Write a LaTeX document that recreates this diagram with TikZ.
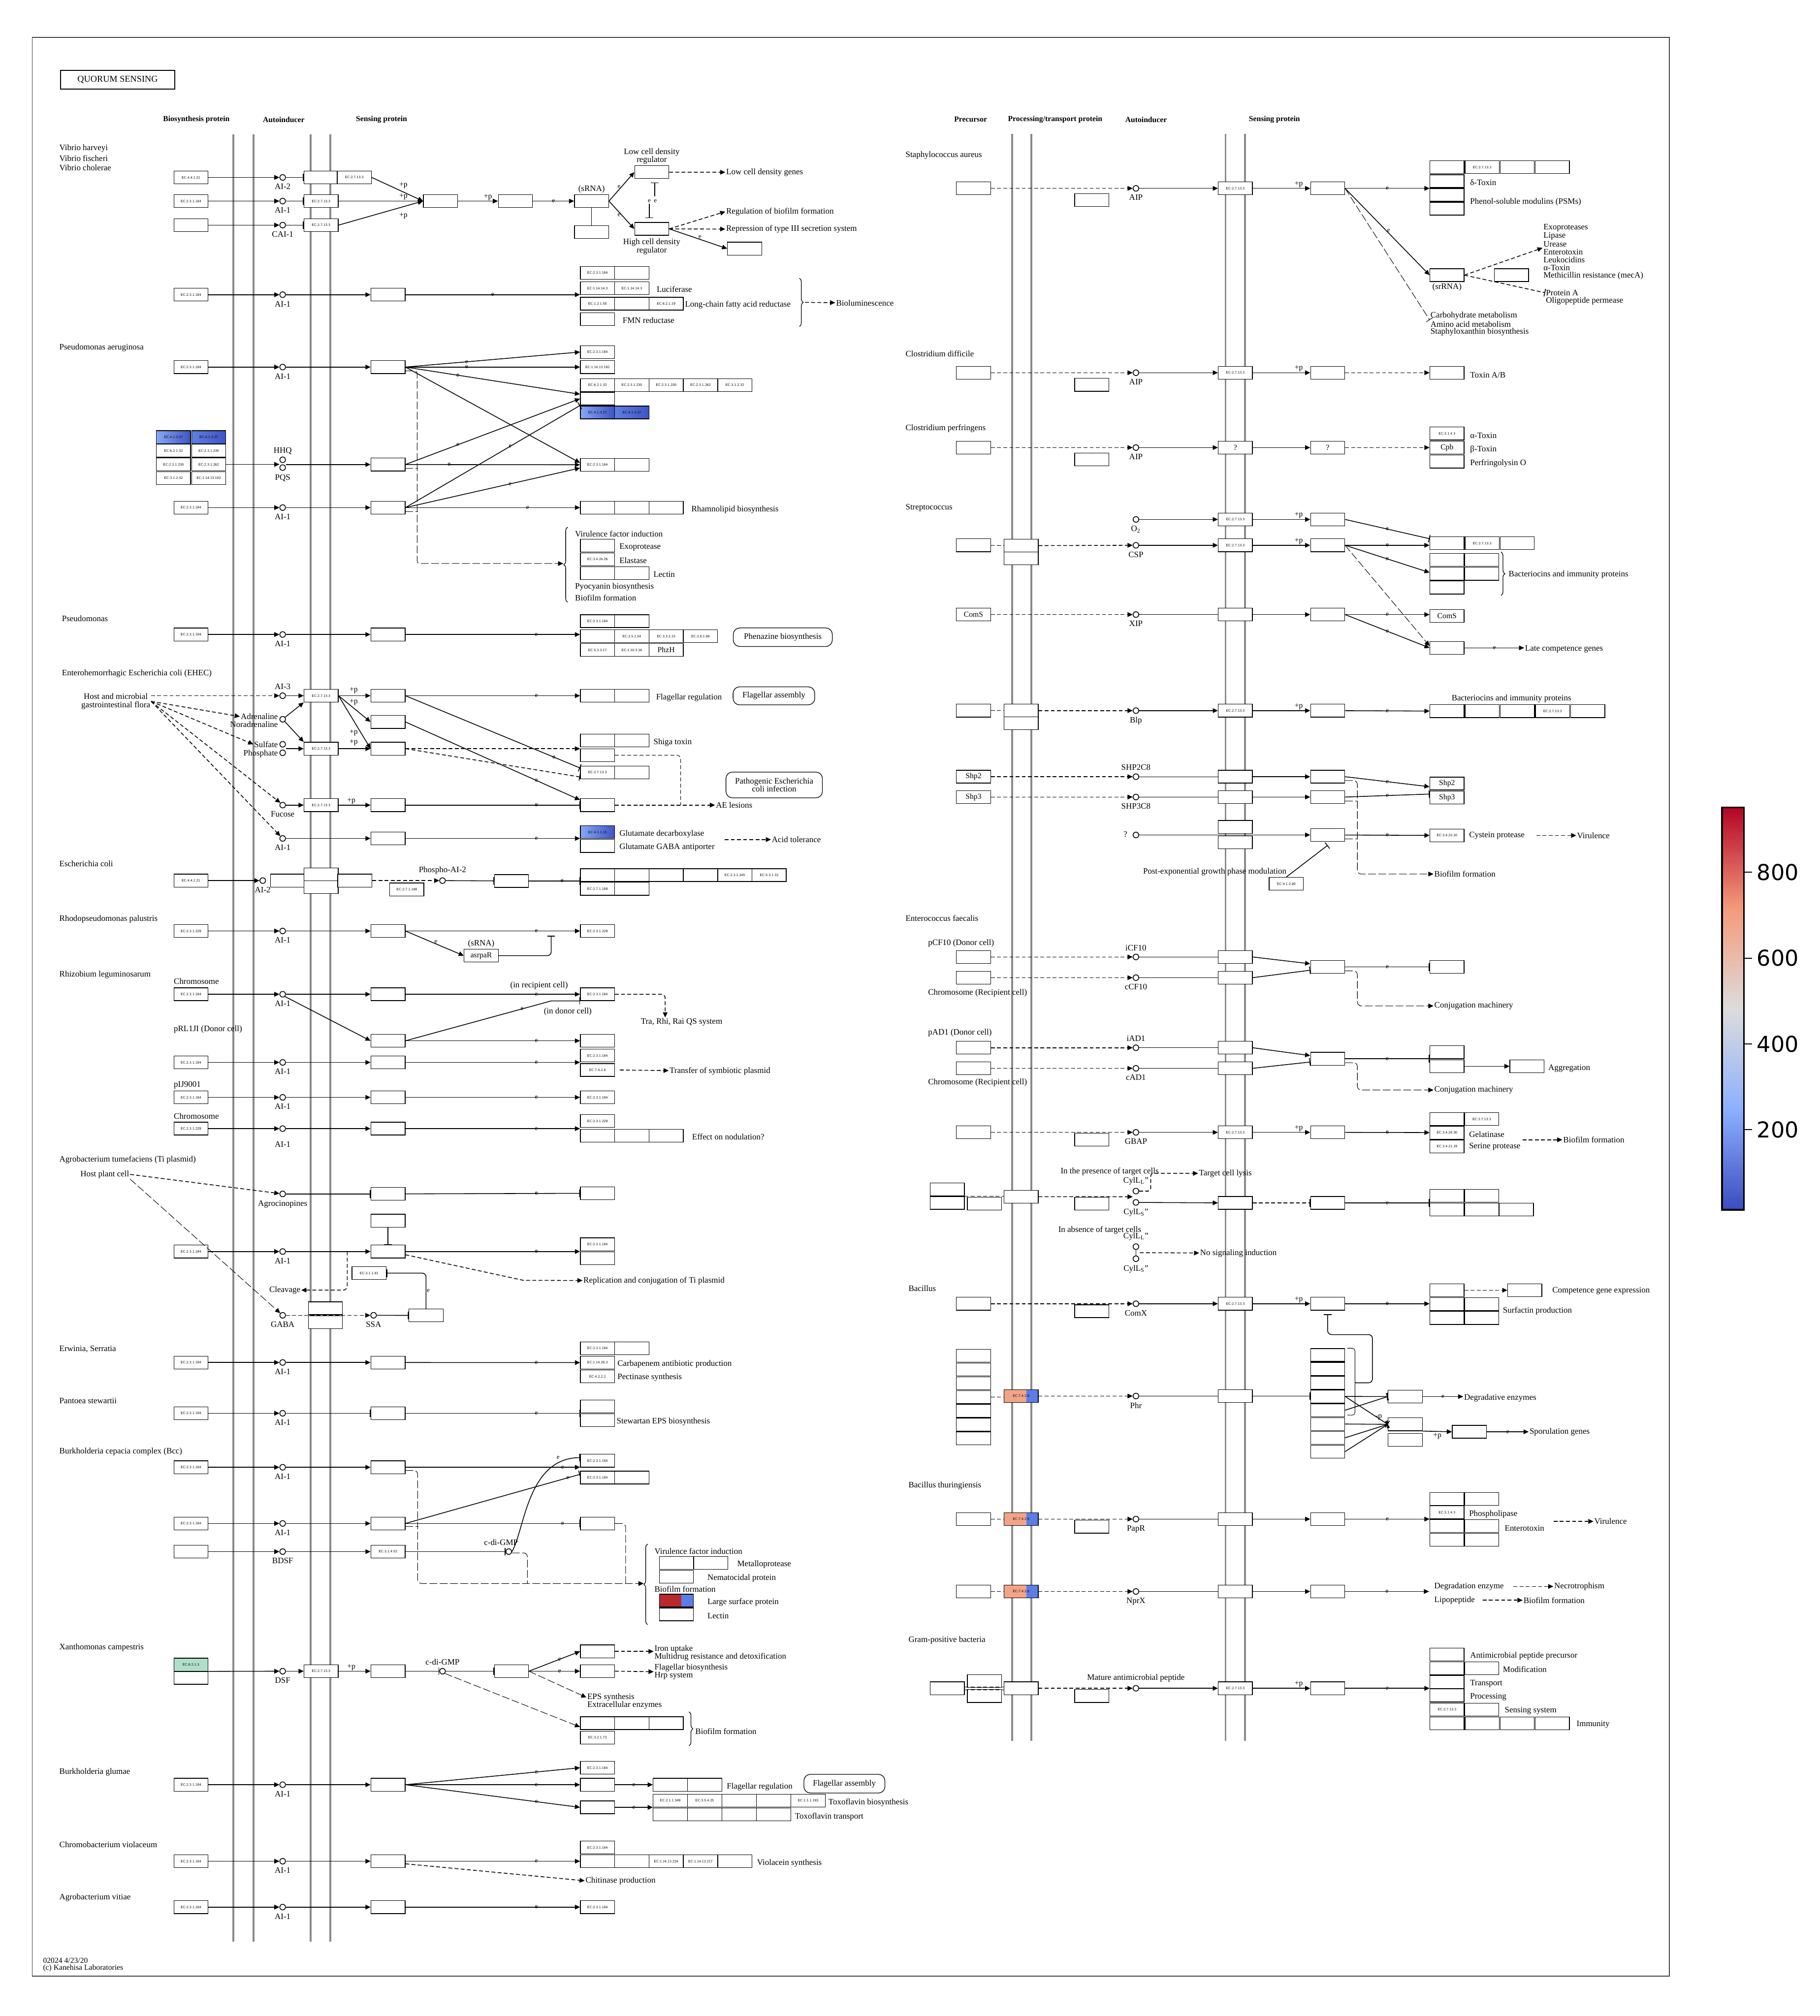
\documentclass[tikz,border=0pt]{standalone}
\usepackage{fontspec}
\setmainfont{Liberation Serif}
\newfontfamily\cbfont{DejaVu Sans}
\usetikzlibrary{arrows.meta,positioning,calc,decorations.pathreplacing}

\definecolor{memgray}{HTML}{8A8A8A}
\definecolor{cwblue}{HTML}{3B4CC0}
\definecolor{cwlblue}{HTML}{8DB0FE}
\definecolor{cwgray}{HTML}{DDDCDC}
\definecolor{cwsalmon}{HTML}{F49A7B}
\definecolor{cwred}{HTML}{B40426}
\definecolor{kbl}{HTML}{86A8F6}
\definecolor{kbm}{HTML}{5F7FE4}
\definecolor{kbd}{HTML}{3F54C4}
\definecolor{kblu}{HTML}{5C7DE6}
\definecolor{kgrn}{HTML}{B0DFC9}
\definecolor{ksal}{HTML}{F2A488}
\definecolor{kred}{HTML}{B82A2E}

\pgfdeclareverticalshading{coolwarm}{100bp}{color(0bp)=(cwblue); color(25bp)=(cwblue); color(37.5bp)=(cwlblue); color(50bp)=(cwgray); color(62.5bp)=(cwsalmon); color(75bp)=(cwred); color(100bp)=(cwred)}

% a row of gene boxes: name, first x, step, y, labels
\newcommand{\generow}[5]{%
  \foreach \lab [count=\i] in {#5}
    \node[gene] (#1\i) at ({#2+(\i-1)*#3},#4) {\lab};}

\def\colB{148.5}
\def\colA{219.8}
\def\colS{249.7}
\def\colR{301.7}
\def\colT{464.6}
\def\colP{757}
\def\colM{794}
\def\colQ{849}
\def\colAA{883.3}
\def\colSS{960.6}
\def\colRR{1032.4}
\def\colTT{1125.2}

\begin{document}
\begin{tikzpicture}[x=1pt,y=-1pt,
    gene/.style={draw, line width=0.5pt, fill=white, minimum width=26.6pt, minimum height=10pt, inner sep=0pt, font=\fontsize{2.8}{3}\sffamily},
    genel/.style={gene, font=\fontsize{6}{6}\selectfont},
    lbl/.style={font=\fontsize{6.5}{7}\selectfont, inner sep=0.5pt},
    lw/.style={lbl, anchor=west},
    hdr/.style={font=\fontsize{6}{7}\selectfont\bfseries, inner sep=0pt},
    ai/.style={circle, draw, line width=0.6pt, minimum size=4.4pt, inner sep=0pt, fill=white},
    every label/.style={lbl},
    label distance=1.8pt,
    elbl/.style={font=\fontsize{5}{5}\selectfont, inner sep=0.3pt},
    plbl/.style={font=\fontsize{6}{6}\selectfont, inner sep=0.5pt},
    act/.style={line width=0.6pt, -{Triangle[length=4pt,width=3.6pt]}},
    inh/.style={line width=0.6pt, -{Bar[width=6pt]}},
    dsh/.style={dash pattern=on 3pt off 1.8pt},
    dshl/.style={line width=0.4pt, dash pattern=on 6pt off 2pt},
    mem/.style={draw=memgray, line width=1.5pt},
    rbox/.style={draw, rounded corners=5pt, line width=0.5pt, lbl, align=center, inner sep=0pt},
    brc/.style={decorate, decoration={brace, amplitude=3pt}, line width=0.5pt},
    splitbox/.style 2 args={gene, path picture={
        \fill[#1] (path picture bounding box.south west) rectangle ($(path picture bounding box.north west)!0.65!(path picture bounding box.north east)$);
        \fill[#2] ($(path picture bounding box.south west)!0.65!(path picture bounding box.south east)$) rectangle (path picture bounding box.north east);}},
  ]
  \useasboundingbox (0,0) rectangle (1415,1568);
  \draw[line width=0.6pt, black!75] (25,29) rectangle (1298,1537);
  \node[draw, line width=0.9pt, minimum width=89pt, minimum height=14.5pt, inner sep=0pt, font=\fontsize{7}{8}\selectfont] (title) at (91.5,62) {QUORUM SENSING};

  % membranes
  \foreach \mx in {181.6,197,241.7,257}
    \draw[mem] (\mx,104.5) -- (\mx,1510);
  \foreach \mx in {787,802,953,968}
    \draw[mem] (\mx,104) -- (\mx,1354);

  % headers
  \node[hdr] (hbio) at (152.7,93) {Biosynthesis protein};
  \node[hdr] (haut) at (220.6,93) {Autoinducer};
  \node[hdr] (hsen) at (296.7,93) {Sensing protein};
  \node[hdr] (hpre) at (754.8,93) {Precursor};
  \node[hdr] (hpro) at (820.5,93) {Processing/transport protein};
  \node[hdr] (hau2) at (891.2,93) {Autoinducer};
  \node[hdr] (hse2) at (991,93) {Sensing protein};

  % ---------------- Vibrio
  \node[lw] (spv1) at (45.5,115.4) {Vibrio harveyi};
  \node[lw] (spv2) at (45.5,123.3) {Vibrio fischeri};
  \node[lw] (spv3) at (45.5,130.5) {Vibrio cholerae};
  \node[gene] (vb1) at (\colB,138) {EC:4.4.1.21};
  \node[ai,label=below:AI-2] (va1) at (\colA,138) {};
  \node[gene] (vs1) at (\colS,138) {};
  \node[gene] (vk1) at (275.5,138) {EC:2.7.13.3};
  \node[gene] (vb2) at (\colB,156.4) {EC:2.3.1.184};
  \node[ai,label=below:AI-1] (va2) at (\colA,156.4) {};
  \node[gene] (vs2) at (\colS,156.4) {EC:2.7.13.3};
  \node[gene] (vb3) at (\colB,175.1) {};
  \node[ai,label=below:CAI-1] (va3) at (\colA,175.1) {};
  \node[gene] (vs3) at (\colS,175.1) {EC:2.7.13.3};
  \draw[act] (vb1) -- (va1);
  \draw[act] (vb2) -- (va2);
  \draw[act] (vb3) -- (va3);
  \draw[inh] (va1) -- (vs1);
  \draw[inh] (va2) -- (vs2);
  \draw[inh] (va3) -- (vs3);
  \node[gene] (vu) at (342.5,156.4) {};
  \draw[act] (vk1.east) -- (vu.west);
  \draw[act] (vs2) -- (vu);
  \draw[act] (vs3.east) -- (vu.west);
  \node[plbl] (vp1) at (313.7,144.4) {+p};
  \node[plbl] (vp2) at (313.7,153.2) {+p};
  \node[plbl] (vp3) at (313.7,168.1) {+p};
  \node[gene] (vo) at (400.8,156.4) {};
  \draw[act] (vu) -- node[plbl,above,pos=0.75]{+p} (vo);
  \node[gene] (vsr) at (460,156.4) {};
  \node[lbl,above=0.5pt of vsr] (vsrl) {(sRNA)};
  \node[gene] (vsb) at (460,180.4) {};
  \draw[act] (vo) -- node[elbl]{e} (vsr);
  \draw (vsr) -- (vsb);
  \node[gene] (vlo) at (506.8,133.9) {};
  \node[gene] (vhi) at (506.8,178) {};
  \node[lbl,align=center,font=\fontsize{6.5}{6.2}\selectfont] (vlol) at (506.8,121.5) {Low cell density\\regulator};
  \node[lbl,align=center,font=\fontsize{6.5}{6.2}\selectfont] (vhil) at (506.8,191.8) {High cell density\\regulator};
  \draw[act] (vsr.east) -- node[elbl,left=0.3pt]{e} (vlo.west);
  \draw[act] (vsr.east) -- node[elbl,left=0.3pt]{e} (vhi.west);
  \draw[inh] ($(vlo.south)+(2.4,13.5)$) -- ($(vlo.south)+(2.4,2.7)$);
  \draw[inh] ($(vhi.north)+(-1.9,-14.2)$) -- ($(vhi.north)+(-1.9,-3)$);
  \node[elbl] (ve1) at (504.9,156.4) {e};
  \node[elbl] (ve2) at (509.6,156.4) {e};
  \node[lw] (vlog) at (564,134) {Low cell density genes};
  \draw[act,dsh] (vlo) -- (vlog);
  \node[lw] (vbio) at (564,164.6) {Regulation of biofilm formation};
  \node[lw] (vt3) at (564,178.3) {Repression of type III secretion system};
  \draw[act,dsh] (vhi.east) -- (vbio.west);
  \draw[act,dsh] (vhi) -- (vt3);
  \node[gene] (vx) at (579,193.4) {};
  \draw[act] (vhi.east) -- node[elbl,above right=-0.5pt]{e} (vx.west);

  % luciferase
  \node[gene] (lb) at (\colB,229.2) {EC:2.3.1.184};
  \node[ai,label=below:AI-1] (la) at (\colA,229.2) {};
  \node[gene] (lr) at (\colR,229.2) {};
  \draw[act] (lb) -- (la);
  \draw[act] (la) -- (lr);
  \generow{lta}{\colT}{26.7}{212.2}{EC:2.3.1.184,{}}
  \generow{ltb}{\colT}{26.7}{224.2}{EC:1.14.14.3,EC:1.14.14.3}
  \generow{ltc}{\colT}{26.7}{236.2}{EC:1.2.1.50,{},EC:6.2.1.19}
  \node[gene] (ltd1) at (\colT,248.2) {};
  \draw[act] (lr) -- node[elbl]{e} (lr -| ltb1.west);
  \node[lw] (ltl1) at (510,224.9) {Luciferase};
  \node[lw] (ltl2) at (532,237.2) {Long-chain fatty acid reductase};
  \node[lw] (ltl3) at (483.5,249.2) {FMN reductase};
  \draw[brc] (621.6,216.4) -- (621.6,254);
  \node[lw] (lbiol) at (649.5,235.6) {Bioluminescence};
  \coordinate (lbr) at (626,235.2);
  \draw[act,dsh] (lbr) -- (lbiol);

  % ---------------- Pseudomonas aeruginosa
  \node[lw] (sppa) at (45.5,270.3) {Pseudomonas aeruginosa};
  \node[gene] (pab) at (\colB,285.5) {EC:2.3.1.184};
  \node[ai,label=below:AI-1] (paa) at (\colA,285.5) {};
  \node[gene] (par) at (\colR,285.5) {};
  \draw[act] (pab) -- (paa);
  \draw[act] (paa) -- (par);
  \node[gene] (pat1) at (\colT,273.8) {EC:2.3.1.184};
  \node[gene] (pat2) at (\colT,285.5) {EC:1.14.13.182};
  \generow{paq}{\colT}{26.7}{299.5}{EC:6.2.1.32,EC:2.3.1.230,EC:2.3.1.230,EC:2.3.1.262,EC:3.1.2.32}
  \node[gene] (pat3) at (\colT,310.1) {};
  \node[gene,left color=kbl,right color=kbd] (pbl1) at (\colT,320.8) {EC:4.1.3.27};
  \node[gene,left color=kbm,right color=kbd] (pbl2) at (491.3,320.8) {EC:4.1.3.27};

  \node[gene,left color=kbl,right color=kbd] (hs11) at (134.9,340) {EC:4.1.3.27};
  \node[gene,left color=kbm,right color=kbd] (hs12) at (162.3,340) {EC:4.1.3.27};
  \node[gene] (hs21) at (134.9,350.6) {EC:6.2.1.32};
  \node[gene] (hs22) at (162.3,350.6) {EC:2.3.1.230};
  \node[gene] (hs31) at (134.9,361.2) {EC:2.3.1.230};
  \node[gene] (hs32) at (162.3,361.2) {EC:2.3.1.262};
  \node[gene] (hs41) at (134.9,371.8) {EC:3.1.2.32};
  \node[gene] (hs42) at (162.3,371.8) {EC:1.14.13.182};
  \node[ai] (hhq) at (\colA,357.6) {};
  \node[ai] (pqs) at (\colA,363.7) {};
  \node[lbl] (hhql) at (\colA,350.6) {HHQ};
  \node[lbl] (pqsl) at (\colA,371.7) {PQS};
  \node[gene] (phr) at (\colR,361.3) {};
  \draw[act] (hs32.east) -- (hhq.west |- hs32.east);
  \draw[act] (pqs.east |- phr) -- (phr);
  \node[gene] (pht1) at (\colT,361.5) {EC:2.3.1.184};
  \node[gene] (pht2) at (491.3,361.5) {};

  \node[gene] (prb) at (\colB,394.8) {EC:2.3.1.184};
  \node[ai,label=below:AI-1] (pra) at (\colA,394.8) {};
  \node[gene] (prr) at (\colR,394.8) {};
  \draw[act] (prb) -- (pra);
  \draw[act] (pra) -- (prr);
  \generow{prt}{\colT}{26.7}{394.8}{{},{},{}}
  \node[lw] (prtl) at (537,396.4) {Rhamnolipid biosynthesis};
  \draw[act] (prr) -- node[elbl,pos=0.7]{e} (prt1);

  \draw[act] (par.east) -- node[elbl,pos=0.35]{e} (pat1.west);
  \draw[act] (par) -- node[elbl,pos=0.35]{e} (pat2);
  \draw[act] (par.east) -- node[elbl,pos=0.3]{e} ($(pat3.west)+(0,-3.5)$);
  \draw[act] (par.east) -- ($(pht1.west)+(0,-1.5)$);
  \draw[act] (phr.east) -- node[elbl,pos=0.3]{e} (pat3.west);
  \draw[act] (phr) -- node[elbl,pos=0.25]{e} (pht1);
  \draw[inh] (prr.east) -- node[elbl,pos=0.6]{e} (pat3.south west);
  \draw[act] (prr.east) -- node[elbl,pos=0.6]{e} ($(pht1.west)+(0,2.5)$);
  \coordinate (pvb) at (438,438.3);
  \draw[act,dshl,rounded corners=2pt] ($(par.east)+(0,3)$) -| (324.4,438.3) -- (pvb);
  \draw[dshl] ($(phr.east)+(0,3)$) -- ++(9.9,0);
  \draw[dshl] ($(prr.east)+(0,3)$) -- ++(9.9,0);
  \draw[brc] (441.4,468.4) -- (441.4,410);
  \node[lw] (pv0) at (446.5,415.3) {Virulence factor induction};
  \node[gene] (pv1) at (\colT,424.4) {};
  \node[lw] (pv1l) at (481,425.5) {Exoprotease};
  \node[gene] (pv2) at (\colT,435) {EC:3.4.24.26};
  \node[lw] (pv2l) at (481,436) {Elastase};
  \node[gene] (pv3) at (\colT,445.7) {};
  \node[gene] (pv4) at (491.3,445.7) {};
  \node[lw] (pv3l) at (507.5,446.8) {Lectin};
  \node[lw] (pv5) at (446.5,456.4) {Pyocyanin biosynthesis};
  \node[lw] (pv6) at (446.5,464.9) {Biofilm formation};

  % ---------------- Pseudomonas
  \node[lw] (spps) at (47.5,481.2) {Pseudomonas};
  \node[gene] (psb) at (\colB,493.5) {EC:2.3.1.184};
  \node[ai,label=below:AI-1] (psa) at (\colA,493.5) {};
  \node[gene] (psr) at (\colR,493.5) {};
  \draw[act] (psb) -- (psa);
  \draw[act] (psa) -- (psr);
  \generow{psu}{\colT}{26.7}{483.1}{EC:2.3.1.184,{}}
  \generow{psv}{\colT}{26.7}{494.8}{{},EC:2.5.1.54,EC:3.3.2.15,EC:2.6.1.86}
  \generow{psw}{\colT}{26.7}{505.5}{EC:5.3.3.17,EC:1.10.3.16}
  \node[genel] (psw3) at (518,505.5) {PhzH};
  \draw[act] (psr) -- node[elbl,pos=0.75]{e} (psr -| psv1.west);
  \node[rbox,minimum width=77pt,minimum height=14.4pt] (phz) at (608.7,495.6) {Phenazine biosynthesis};

  % ---------------- EHEC
  \node[lw] (spec) at (47.5,524) {Enterohemorrhagic Escherichia coli (EHEC)};
  \node[lbl,align=center,font=\fontsize{6.5}{6.3}\selectfont] (host) at (90,545.5) {Host and microbial\\gastrointestinal flora};
  \node[ai,label=above:AI-3] (e3a) at (\colA,541.1) {};
  \node[gene] (e3s) at (\colS,541.1) {EC:2.7.13.3};
  \node[gene] (e3r) at (\colR,541.1) {};
  \draw[act,dsh] (host.east |- e3a) -- (e3a);
  \draw[act] (e3a) -- (e3s);
  \draw[act] (e3s) -- (e3r);
  \node[plbl] (e3p) at (275,537) {+p};
  \generow{efl}{\colT}{26.7}{541.1}{{},{}}
  \draw[act] (e3r) -- node[elbl,pos=0.75]{e} (efl1);
  \node[lw] (efll) at (509.5,542.7) {Flagellar regulation};
  \node[rbox,minimum width=63.5pt,minimum height=14pt] (efa) at (601.8,541.2) {Flagellar assembly};

  \node[lbl,anchor=east] (adr) at (216.8,557.3) {Adrenaline};
  \node[lbl,anchor=east] (nadr) at (216.8,563.4) {Noradrenaline};
  \node[ai] (ada) at (\colA,559.4) {};
  \draw[act,dsh] (host.east) -- (adr.west);
  \node[gene] (ea) at (\colR,561.5) {};
  \node[lbl,anchor=east] (sul) at (216.8,578.9) {Sulfate};
  \node[lbl,anchor=east] (phos) at (216.8,586.3) {Phosphate};
  \node[ai] (sula) at (\colA,578.9) {};
  \node[ai] (phoa) at (\colA,585.5) {};
  \node[gene] (esk) at (\colS,582.3) {EC:2.7.13.3};
  \node[gene] (es) at (\colR,582.3) {};
  \draw[act,dsh] (host.east) -- (sul.west);
  \draw[act] (ada) -- (e3s.south west);
  \draw[act] (ada) -- (esk.north west);
  \draw[act] (sula.east |- esk) -- (esk);
  \draw[act] (e3s.east) -- (ea.west);
  \draw[act] (e3s.east) -- (es.west);
  \draw[act] (esk) -- (es);
  \node[plbl] (eap) at (275,546) {+p};
  \node[plbl] (esp1) at (275,569.8) {+p};
  \node[plbl] (esp2) at (275,577.5) {+p};
  \generow{esh}{\colT}{26.7}{576}{{},{}}
  \node[lw] (eshl) at (507.5,577.3) {Shiga toxin};
  \draw[act,dsh] (es) -- (es -| esh1.west);
  \node[gene] (esx) at (\colT,587.4) {};
  \generow{ekk}{\colT}{26.7}{600.8}{EC:2.7.13.3,{}}
  \draw[inh] (e3r.east) -- node[elbl,pos=0.85]{e} ($(ekk1.west)+(0,-3.5)$);
  \draw[inh,dsh] (es.east) -- ($(ekk1.west)+(0,3.5)$);
  \node[rbox,minimum width=75pt,minimum height=20pt,font=\fontsize{6.5}{6.3}\selectfont] (epi) at (602,610.5) {Pathogenic Escherichia\\coli infection};

  \node[ai,label=below:Fucose] (fua) at (\colA,626.2) {};
  \node[gene] (fus) at (\colS,626.2) {EC:2.7.13.3};
  \node[gene] (fur) at (\colR,626.2) {};
  \node[gene] (fut) at (\colT,626.2) {};
  \draw[act] (fua) -- (fus);
  \draw[act] (fus) -- node[plbl,above,pos=0.4]{+p} (fur);
  \draw[inh] (fur) -- node[elbl,pos=0.75]{e} (fut);
  \draw[act] (ea.east) -- node[elbl,pos=0.75]{e} ($(fut.west)+(0,-4)$);
  \node[lw] (ael) at (556,626.2) {AE lesions};
  \draw[act,dsh] (fut) -- (ael);
  \draw[dsh,rounded corners=3pt] (esx.east) -| (529.3,626.2);
  \draw[act,dsh] (host.east) -- (fua.north west);

  \node[ai,label=below:AI-1] (gla) at (\colA,652.1) {};
  \node[gene] (glr) at (\colR,652.1) {};
  \draw[act] (gla) -- (glr);
  \draw[act,dsh] (host.east) -- (gla.north west);
  \node[gene,left color=kbl,right color=kbd] (glt1) at (\colT,647.2) {EC:4.1.1.15};
  \node[gene] (glt2) at (\colT,658) {};
  \draw[act] (glr) -- node[elbl,pos=0.75]{e} (glr -| glt1.west);
  \node[lw] (glt1l) at (481,648.5) {Glutamate decarboxylase};
  \node[lw] (glt2l) at (481,659) {Glutamate GABA antiporter};
  \node[lw] (acid) at (599.5,653) {Acid tolerance};
  \draw[act,dsh] ($(acid.west)+(-36,0)$) -- (acid);

  % ---------------- E. coli
  \node[lw] (speco) at (45.5,671.6) {Escherichia coli};
  \node[gene] (ecb) at (\colB,684.9) {EC:4.4.1.21};
  \node[ai,label=below:AI-2] (eca) at (204.3,684.9) {};
  \node[gene] (ect1) at (223.6,684.9) {};
  \node[gene] (ect2) at (\colS,680.1) {};
  \node[gene] (ect3) at (\colS,690.1) {};
  \node[gene] (ect4) at (275.9,684.9) {};
  \draw[act] (ecb) -- (eca);
  \node[ai,label=above:Phospho-AI-2] (ecp) at (344.1,684.9) {};
  \draw[act,dsh] (ect4) -- (ecp);
  \node[gene] (eck) at (316.3,691.8) {EC:2.7.1.189};
  \node[gene] (ecr) at (397.7,685.2) {};
  \draw[inh] (ecp) -- (ecr);
  \generow{ecu}{\colT}{26.7}{680.6}{{},{},{},{},EC:2.3.1.245,EC:5.3.1.32}
  \generow{ecv}{\colT}{26.7}{691.3}{EC:2.7.1.189,{}}
  \draw[inh] (ecr) -- node[elbl,pos=0.65]{e} (ecr -| ecu1.west);

  % ---------------- Rhodopseudomonas
  \node[lw] (sprp) at (45.5,715) {Rhodopseudomonas palustris};
  \node[gene] (rpb) at (\colB,724.1) {EC:2.3.1.229};
  \node[ai,label=below:AI-1] (rpa) at (\colA,724.1) {};
  \node[gene] (rpr) at (\colR,724.1) {};
  \node[gene] (rpt) at (\colT,724.1) {EC:2.3.1.229};
  \draw[act] (rpb) -- (rpa);
  \draw[act] (rpa) -- (rpr);
  \draw[act] (rpr) -- node[elbl,pos=0.75]{e} (rpt);
  \node[genel] (asr) at (374.2,743.3) {asrpaR};
  \node[lbl,above=0.3pt of asr] (asrl) {(sRNA)};
  \draw[act] (rpr.east) -- node[elbl,above right=-1pt]{e} (asr.west);
  \draw[inh,rounded corners=3pt] (asr.east) -| (428.6,727.8);

  % ---------------- Rhizobium
  \node[lw] (sprl) at (45.5,758.2) {Rhizobium leguminosarum};
  \node[lw] (rlch) at (134.5,763.3) {Chromosome};
  \node[gene] (rlb) at (\colB,773.3) {EC:2.3.1.184};
  \node[ai,label=below:AI-1] (rla) at (\colA,773.3) {};
  \node[gene] (rlr) at (\colR,773.3) {};
  \node[gene] (rlt) at (\colT,773.3) {EC:2.3.1.184};
  \draw[act] (rlb) -- (rla);
  \draw[act] (rla) -- (rlr);
  \draw[act] (rlr) -- node[elbl,pos=0.75]{e} (rlt);
  \node[lbl] (rlrec) at (419.2,766.5) {(in recipient cell)};
  \node[lbl] (rldon) at (441.5,786.8) {(in donor cell)};
  \node[lbl] (rltra) at (530,795) {Tra, Rhi, Rai QS system};
  \draw[act,dsh,rounded corners=3pt] (rlt.east) -| ($(rltra.north west)+(19.6,0)$);
  \node[lw] (rlpl) at (134.5,800.7) {pRL1JI (Donor cell)};
  \node[gene] (rlq) at (\colR,809.5) {};
  \node[gene] (rlqt) at (\colT,809.5) {};
  \draw[act] (rla.south east) -- (rlq.west);
  \draw[act] (rlq) -- node[elbl,pos=0.75]{e} (rlqt);
  \draw[inh] (rlq.east) -- node[elbl,pos=0.8]{e} (428.6,778.5) -- ($(rlt.west)+(0,5.2)$);

  \node[gene] (rjb) at (\colB,826.3) {EC:2.3.1.184};
  \node[ai,label=below:AI-1] (rja) at (\colA,826.3) {};
  \node[gene] (rjr) at (\colR,826.3) {};
  \node[gene] (rjt1) at (\colT,821) {EC:2.3.1.184};
  \node[gene] (rjt2) at (\colT,832.2) {EC:7.4.2.8};
  \draw[act] (rjb) -- (rja);
  \draw[act] (rja) -- (rjr);
  \draw[act] (rjr) -- node[elbl,pos=0.75]{e} (rjr -| rjt1.west);
  \node[lw] (rjtl) at (520,833.2) {Transfer of symbiotic plasmid};
  \draw[act,dsh] ($(rjt2.east)+(3.8,0)$) -- (rjtl);

  \node[lw] (rkpl) at (134.5,843.9) {pIJ9001};
  \node[gene] (rkb) at (\colB,853.5) {EC:2.3.1.184};
  \node[ai,label=below:AI-1] (rka) at (\colA,853.5) {};
  \node[gene] (rkr) at (\colR,853.5) {};
  \node[gene] (rkt) at (\colT,853.5) {EC:2.3.1.184};
  \draw[act] (rkb) -- (rka);
  \draw[act] (rka) -- (rkr);
  \draw[act] (rkr) -- node[elbl,pos=0.75]{e} (rkt);

  \node[lw] (rcch) at (134.5,867.9) {Chromosome};
  \node[gene] (rcb) at (\colB,877.8) {EC:2.3.1.229};
  \node[ai,label={[label distance=7pt]below:AI-1}] (rca) at (\colA,877.8) {};
  \node[gene] (rcr) at (\colR,877.8) {};
  \node[gene] (rct0) at (\colT,871.9) {EC:2.3.1.229};
  \generow{rct}{\colT}{26.7}{883.4}{{},{},{}}
  \draw[act] (rcb) -- (rca);
  \draw[act] (rca) -- (rcr);
  \draw[act] (rcr) -- node[elbl,pos=0.75]{e} (rcr -| rct1.west);
  \node[lw] (rctl) at (537.5,884.3) {Effect on nodulation?};

  % ---------------- Agrobacterium tumefaciens
  \node[lw] (spat) at (45.5,901.9) {Agrobacterium tumefaciens (Ti plasmid)};
  \node[lbl] (hpc) at (81.5,913.4) {Host plant cell};
  \node[ai,label=below:Agrocinopines] (aga) at (\colA,928.6) {};
  \node[gene] (agr) at (\colR,928.6) {};
  \node[gene] (agt) at (\colT,928.1) {};
  \draw[act,dsh] (hpc.east) -- (aga);
  \draw[inh] (aga) -- (agr);
  \draw[inh] (agr) -- node[elbl,pos=0.75]{e} (agt);
  \node[gene] (ta0) at (\colR,949.4) {};
  \node[gene] (tab) at (\colB,973.4) {EC:2.3.1.184};
  \node[ai,label=below:AI-1] (taa) at (\colA,973.4) {};
  \node[gene] (tar) at (\colR,973.4) {};
  \draw[inh] (ta0) -- (tar);
  \draw[act] (tab) -- (taa);
  \draw[act] (taa) -- (tar);
  \node[gene] (tat1) at (\colT,967.8) {EC:2.3.1.184};
  \node[gene] (tat2) at (\colT,978.7) {};
  \draw[act] (tar) -- node[elbl,pos=0.75]{e} (tar -| tat1.west);
  \node[lw] (tarep) at (453,996.1) {Replication and conjugation of Ti plasmid};
  \draw[act,dsh] ($(tar.east)+(0,2.5)$) -- (407,995.8) -- (tarep);
  \node[gene] (tac) at (287,990.2) {EC:3.1.1.81};
  \node[lbl] (tacl) at (221.5,1003.4) {Cleavage};
  \draw[act,dsh,rounded corners=3pt] (270,973.4) |- (tacl);
  \node[gene] (gbt1) at (253,1017.5) {};
  \node[gene] (gbt2) at (253,1028.5) {};
  \node[ai,label=below:GABA] (gba) at (\colA,1023) {};
  \node[ai,label=below:SSA] (ssa) at (290.5,1023) {};
  \node[gene] (ssb) at (331.3,1023.1) {};
  \draw[act,dsh] (gba) -- (ssa);
  \draw[inh] (ssa) -- (ssb);
  \draw[inh,rounded corners=3pt] (ssb.north) |- node[elbl,pos=0.25,right]{e} (tac.east);
  \draw[act,dshl] (hpc.south east) -- (gba);

  % ---------------- Erwinia
  \node[lw] (sper) at (45.5,1049.3) {Erwinia, Serratia};
  \node[gene] (erb) at (\colB,1059.7) {EC:2.3.1.184};
  \node[ai,label=below:AI-1] (era) at (\colA,1059.7) {};
  \node[gene] (err) at (\colR,1059.7) {};
  \generow{ert}{\colT}{26.7}{1048.6}{EC:2.3.1.184,{}}
  \node[gene] (eru) at (\colT,1059.8) {EC:1.14.20.3};
  \node[gene] (erv) at (\colT,1070.6) {EC:4.2.2.2};
  \draw[act] (erb) -- (era);
  \draw[act] (era) -- (err);
  \draw[act] (err) -- node[elbl,pos=0.75]{e} (eru);
  \node[lw] (erul) at (479.5,1060.8) {Carbapenem antibiotic production};
  \node[lw] (ervl) at (479.5,1071.4) {Pectinase synthesis};

  % ---------------- Pantoea
  \node[lw] (sppn) at (45.5,1089.3) {Pantoea stewartii};
  \node[gene] (pnb) at (\colB,1099.2) {EC:2.3.1.184};
  \node[ai,label=below:AI-1] (pna) at (\colA,1099.2) {};
  \node[gene] (pnr) at (\colR,1099.2) {};
  \node[gene] (pnt1) at (\colT,1093.8) {};
  \node[gene] (pnt2) at (\colT,1104.6) {};
  \draw[act] (pnb) -- (pna);
  \draw[inh] (pna) -- (pnr);
  \draw[inh] (pnr) -- node[elbl,pos=0.75]{e} (pnr -| pnt1.west);
  \node[lw] (pntl) at (478.8,1105.7) {Stewartan EPS biosynthesis};

  % ---------------- Burkholderia cepacia
  \node[lw] (spbc) at (45.5,1128.9) {Burkholderia cepacia complex (Bcc)};
  \node[gene] (bcb) at (\colB,1141.2) {EC:2.3.1.184};
  \node[ai,label=below:AI-1] (bca) at (\colA,1141.2) {};
  \node[gene] (bcr) at (\colR,1141.2) {};
  \node[gene] (bct1) at (\colT,1136.1) {EC:2.3.1.184};
  \generow{bcu}{\colT}{26.7}{1149.2}{EC:2.3.1.184,{}}
  \draw[act] (bcb) -- (bca);
  \draw[act] (bca) -- (bcr);
  \draw[act] (bcr) -- node[elbl,pos=0.9]{e} (bcr -| bct1.west);
  \node[gene] (bdb) at (\colB,1184.9) {EC:2.3.1.184};
  \node[ai,label=below:AI-1] (bda) at (\colA,1184.9) {};
  \node[gene] (bdr) at (\colR,1184.9) {};
  \node[gene] (bdt) at (\colT,1184.9) {};
  \draw[act] (bdb) -- (bda);
  \draw[act] (bda) -- (bdr);
  \draw[inh] (bdr) -- node[elbl,pos=0.9]{e} (bdt);
  \draw[inh] (bdr.east) -- node[elbl,pos=0.93]{e} ($(bcu1.west)+(0,-2.5)$);
  \node[gene] (bfb) at (\colB,1206.8) {};
  \node[ai,label=below:BDSF] (bfa) at (\colA,1206.8) {};
  \node[gene] (bfr) at (\colR,1206.8) {EC:3.1.4.52};
  \draw[act] (bfb) -- (bfa);
  \draw[act] (bfa) -- (bfr);
  \node[ai,label={[xshift=-6pt]above:c-di-GMP}] (bfc) at (395.6,1206.8) {};
  \draw[inh] (bfr) -- (bfc);
  \draw[inh] (bfc.east) .. controls (408,1190) and (410,1134) .. ($(bct1.west)+(0,-2.4)$);
  \node[elbl] (bce) at (434,1133.7) {e};
  \coordinate (bvb) at (500.5,1231.6);
  \draw[act,dshl,rounded corners=3pt] ($(bcr.east)+(0,2.5)$) -| (324.8,1231.6) -- (bvb);
  \draw[dshl] ($(bdr.east)+(0,2.5)$) -- ++(10.3,0);
  \draw[dshl,rounded corners=3pt] ($(bfc.east)+(0,1)$) -| (410.1,1231.6);
  \draw[dshl,rounded corners=3pt] (bdt.east) -| (486.5,1231.6);
  \draw[brc] (503.6,1263.6) -- (503.6,1200.9);
  \node[lw] (bv0) at (508.3,1206.3) {Virulence factor induction};
  \node[gene] (bv1) at (526,1215.6) {};
  \node[gene] (bv2) at (552.7,1215.6) {};
  \node[lw] (bv1l) at (572.6,1216.7) {Metalloprotease};
  \node[gene] (bv3) at (526,1226.3) {};
  \node[lw] (bv3l) at (549.4,1227.3) {Nematocidal protein};
  \node[lw] (bv4) at (508.3,1235.9) {Biofilm formation};
  \node[splitbox={kred}{kblu}] (bv5) at (526,1244.9) {};
  \node[lw] (bv5l) at (549.4,1246) {Large surface protein};
  \node[gene] (bv6) at (526,1255.6) {};
  \node[lw] (bv6l) at (549.4,1256.7) {Lectin};

  % ---------------- Xanthomonas
  \node[lw] (spxc) at (45.5,1281.5) {Xanthomonas campestris};
  \node[gene,fill=kgrn] (xg) at (\colB,1294.7) {EC:6.2.1.3};
  \node[gene] (xe) at (\colB,1305) {};
  \node[ai,label=below:DSF] (xa) at (\colA,1299.8) {};
  \node[gene] (xs) at (\colS,1299.8) {EC:2.7.13.3};
  \node[gene] (xr) at (\colR,1299.8) {};
  \node[ai,label=above:c-di-GMP] (xc) at (344.1,1299.8) {};
  \node[gene] (xb) at (397.7,1299.8) {};
  \draw[act] (xg.south east) -- (xa);
  \draw[act] (xa) -- (xs);
  \draw[act] (xs) -- node[plbl,above,pos=0.4]{+p} (xr);
  \draw[inh] (xr) -- (xc);
  \draw[inh] (xc) -- (xb);
  \node[gene] (xt1) at (\colT,1284.4) {};
  \node[gene] (xt2) at (\colT,1299.8) {};
  \draw[act] (xb.east) -- node[elbl,pos=0.6]{e} (xt1.west);
  \draw[act] (xb) -- node[elbl,pos=0.6]{e} (xt2);
  \node[lw] (xl1) at (508.3,1282.4) {Iron uptake};
  \node[lw] (xl2) at (508.3,1288.8) {Multidrug resistance and detoxification};
  \node[lw] (xl3) at (508.3,1297) {Flagellar biosynthesis};
  \node[lw] (xl4) at (508.3,1303.4) {Hrp system};
  \draw[act,dsh] (xt1.east) -- ($(xl1.west)+(0,2)$);
  \draw[act,dsh] (xt2.east) -- ($(xl3.west)!0.5!(xl4.west)$);
  \node[lw] (xl5) at (456,1320.2) {EPS synthesis};
  \node[lw] (xl6) at (456,1326.3) {Extracellular enzymes};
  \draw[act,dshl] (xb.east) -- (xl5.west);
  \generow{xf}{\colT}{26.7}{1340.2}{{},{},{}}
  \node[gene] (xf4) at (\colT,1351.4) {EC:3.2.1.73};
  \draw[act,dshl] (xc.south east) -- ($(xf1.west)+(0,3)$);
  \draw[brc] (535.8,1331.4) -- (535.8,1357.8);
  \node[lw] (xf0) at (540,1346.6) {Biofilm formation};

  % ---------------- Burkholderia glumae
  \node[lw] (spbg) at (45.5,1378.2) {Burkholderia glumae};
  \node[gene] (bgb) at (\colB,1388.1) {EC:2.3.1.184};
  \node[ai,label=below:AI-1] (bga) at (\colA,1388.1) {};
  \node[gene] (bgr) at (\colR,1388.1) {};
  \node[gene] (bgt1) at (\colT,1374.9) {EC:2.3.1.184};
  \node[gene] (bgt2) at (\colT,1388.1) {};
  \node[gene] (bgt3) at (\colT,1405.7) {};
  \draw[act] (bgb) -- (bga);
  \draw[act] (bga) -- (bgr);
  \draw[act] (bgr.east) -- node[elbl,pos=0.75]{e} (bgt1.west);
  \draw[act] (bgr) -- node[elbl,pos=0.75]{e} (bgt2);
  \draw[act] (bgr.east) -- node[elbl,pos=0.75]{e} (bgt3.west);
  \generow{bgf}{521.2}{26.8}{1388.1}{{},{}}
  \draw[act] (bgt2) -- node[elbl]{e} (bgf1);
  \node[lw] (bgfl) at (564.5,1389.7) {Flagellar regulation};
  \node[rbox,minimum width=63pt,minimum height=14.5pt] (bgfa) at (656.6,1387.3) {Flagellar assembly};
  \generow{bgx}{521.2}{26.8}{1400.5}{EC:2.1.1.349,EC:3.5.4.25,{},{},EC:1.1.1.193}
  \generow{bgy}{521.2}{26.8}{1411.3}{{},{},{},{}}
  \draw[act] (bgt3) -- node[elbl]{e} (bgt3 -| bgx1.west);
  \node[lw] (bgxl) at (643.5,1402.1) {Toxoflavin biosynthesis};
  \node[lw] (bgyl) at (617.5,1412.9) {Toxoflavin transport};

  % ---------------- Chromobacterium
  \node[lw] (spcv) at (45.5,1434.5) {Chromobacterium violaceum};
  \node[gene] (cvb) at (\colB,1447.6) {EC:2.3.1.184};
  \node[ai,label=below:AI-1] (cva) at (\colA,1447.6) {};
  \node[gene] (cvr) at (\colR,1447.6) {};
  \node[gene] (cvt0) at (\colT,1436.9) {EC:2.3.1.184};
  \generow{cvt}{\colT}{26.7}{1447.6}{{},{},EC:1.14.13.224,EC:1.14.13.217,{}}
  \draw[act] (cvb) -- (cva);
  \draw[act] (cva) -- (cvr);
  \draw[act] (cvr) -- node[elbl,pos=0.75]{e} (cvt1);
  \node[lw] (cvtl) at (588,1449.2) {Violacein synthesis};
  \node[lw] (cvch) at (454.7,1462.8) {Chitinase production};
  \draw[act,dsh] ($(cvr.east)+(0,2)$) -- (cvch.west);

  % ---------------- Agrobacterium vitiae
  \node[lw] (spav) at (45.5,1475.8) {Agrobacterium vitiae};
  \node[gene] (avb) at (\colB,1483.3) {EC:2.3.1.184};
  \node[ai,label=below:AI-1] (ava) at (\colA,1483.3) {};
  \node[gene] (avr) at (\colR,1483.3) {};
  \node[gene] (avt) at (\colT,1483.3) {EC:2.3.1.184};
  \draw[act] (avb) -- (ava);
  \draw[act] (ava) -- (avr);
  \draw[act] (avr) -- node[elbl,pos=0.75]{e} (avt);

  \node[lw,font=\fontsize{6}{6}\selectfont] (foot1) at (32.8,1524.9) {02024 4/23/20};
  \node[lw,font=\fontsize{6}{6}\selectfont] (foot2) at (32.8,1530.9) {(c) Kanehisa Laboratories};

  % ================= right half
  % Staphylococcus
  \node[lw] (spsa) at (703.5,120.8) {Staphylococcus aureus};
  \node[gene] (sap) at (\colP,146.5) {};
  \node[ai,label=below:AIP] (saa) at (\colAA,146.5) {};
  \node[gene] (saq) at (\colQ,155.7) {};
  \node[gene] (sas) at (\colSS,146.5) {EC:2.7.13.3};
  \node[gene] (sar) at (\colRR,146.5) {};
  \draw[act,dsh] (sap) -- (saa);
  \draw[act] (saa) -- (sas);
  \draw[act] (sas) -- node[plbl,above,pos=0.8]{+p} (sar);
  \generow{sat}{\colTT}{27.3}{130}{{},EC:2.7.13.3,{},{}}
  \node[gene] (sad) at (\colTT,140.9) {};
  \node[gene] (sam1) at (\colTT,151.6) {};
  \node[gene] (sam2) at (\colTT,162.3) {};
  \node[lw] (sadl) at (1142.5,142) {δ-Toxin};
  \node[lw] (saml) at (1142.5,157.2) {Phenol-soluble modulins (PSMs)};
  \draw[act] (sar) -- node[elbl]{e} (sar -| sad.west);
  \node[gene] (srr) at (\colTT,214) {};
  \node[lbl,below=0.3pt of srr] (srrl) {(srRNA)};
  \node[gene] (srx) at (1175.3,214) {};
  \draw[act] (sar.east) -- node[elbl,above right=-1pt]{e} (srr.west);
  \foreach \lab [count=\i] in {Exoproteases,Lipase,Urease,Enterotoxin,Leukocidins,α-Toxin,Methicillin resistance (mecA)}
    \node[lw] (sx\i) at (1199.5,{171.1+6.2*\i}) {\lab};
  \draw[act,dsh] (srr.east) -- ($(sx3.west)!0.5!(sx4.west)$);
  \node[lw] (spa1) at (1201.5,227.7) {Protein A};
  \node[lw] (spa2) at (1201.5,233.9) {Oligopeptide permease};
  \draw[inh,dsh] (srr.east) -- (spa1.west);
  \foreach \lab [count=\i] in {Carbohydrate metabolism,Amino acid metabolism,Staphyloxanthin biosynthesis}
    \node[lw] (sc\i) at (1111.7,{239.4+6.3*\i}) {\lab};
  \draw[inh,dshl] (sar.east) -- ($(sc1.west)!0.5!(sc2.west)$);

  % Clostridium difficile
  \node[lw] (spcd) at (703.5,275) {Clostridium difficile};
  \node[gene] (cdp) at (\colP,289.9) {};
  \node[ai,label=below:AIP] (cda) at (\colAA,289.9) {};
  \node[gene] (cdq) at (\colQ,299.3) {};
  \node[gene] (cds) at (\colSS,289.9) {EC:2.7.13.3};
  \node[gene] (cdr) at (\colRR,289.9) {};
  \node[gene] (cdt) at (\colTT,289.9) {};
  \node[lw] (cdtl) at (1142.5,291.5) {Toxin A/B};
  \draw[act,dsh] (cdp) -- (cda);
  \draw[act] (cda) -- (cds);
  \draw[act] (cds) -- node[plbl,above,pos=0.8]{+p} (cdr);
  \draw[act,dsh] (cdr) -- (cdt);

  % Clostridium perfringens
  \node[lw] (spcp) at (703.5,333.3) {Clostridium perfringens};
  \node[gene] (cpp) at (\colP,348.1) {};
  \node[ai,label=below:AIP] (cpa) at (\colAA,348.1) {};
  \node[gene] (cpq) at (\colQ,357.3) {};
  \node[genel] (cps) at (\colSS,348.1) {?};
  \node[genel] (cpr) at (\colRR,348.1) {?};
  \node[gene] (cpt1) at (\colTT,337.2) {EC:3.1.4.3};
  \node[genel] (cpt2) at (\colTT,348.1) {Cpb};
  \node[gene] (cpt3) at (\colTT,359) {};
  \node[lw] (cpt1l) at (1142.5,338.8) {α-Toxin};
  \node[lw] (cpt2l) at (1142.5,349.7) {β-Toxin};
  \node[lw] (cpt3l) at (1142.5,360.4) {Perfringolysin O};
  \draw[act,dsh] (cpp) -- (cpa);
  \draw[act] (cpa) -- (cps);
  \draw[act] (cps) -- (cpr);
  \draw[act,dsh] (cpr) -- (cpt2);

  % Streptococcus
  \node[lw] (spst) at (703.5,394.8) {Streptococcus};
  \node[ai,label={below:O\textsubscript{2}}] (oxa) at (\colAA,404) {};
  \node[gene] (oxs) at (\colSS,404) {EC:2.7.13.3};
  \node[gene] (oxr) at (\colRR,404) {};
  \draw[act] (oxa) -- (oxs);
  \draw[act] (oxs) -- node[plbl,above,pos=0.8]{+p} (oxr);
  \node[gene] (csp) at (\colP,424.1) {};
  \node[gene] (csm1) at (\colM,424.4) {};
  \node[gene] (csm2) at (\colM,434.4) {};
  \node[ai,label=below:CSP] (csa) at (\colAA,424.1) {};
  \node[gene] (css) at (\colSS,424.1) {EC:2.7.13.3};
  \node[gene] (csr) at (\colRR,424.1) {};
  \draw[dsh] (csp) -- (csm1);
  \draw[act,dsh] (csm1) -- (csa);
  \draw[act] (csa) -- (css);
  \draw[act] (css) -- node[plbl,above,pos=0.8]{+p} (csr);
  \generow{cst}{\colTT}{27.3}{422.5}{{},EC:2.7.13.3,{}}
  \draw[inh] (oxr.east) -- node[elbl]{e} ($(cst1.west)+(0,-3.5)$);
  \draw[act] (csr) -- node[elbl]{e} (csr -| cst1.west);
  \generow{csb}{\colTT}{27}{435.4}{{},{}}
  \generow{csc}{\colTT}{27}{446.3}{{},{}}
  \node[gene] (csd1) at (\colTT,457) {};
  \draw[act] (csr.east) -- node[elbl]{e} ($(csc1.west)+(0,-1)$);
  \draw[brc] (1167.2,429.3) -- (1167.2,463.2);
  \node[lw] (csbl) at (1172.5,446.9) {Bacteriocins and immunity proteins};
  \node[gene] (lcg) at (\colTT,503.9) {};
  \draw[act,dshl] (csr.east) -- ($(lcg.west)+(0,-1.5)$);
  \node[genel] (xip) at (\colP,478) {ComS};
  \node[ai,label=below:XIP] (xia) at (\colAA,478) {};
  \node[gene] (xis) at (\colSS,478) {};
  \node[gene] (xir) at (\colRR,478) {};
  \node[genel] (xit) at (\colTT,479) {ComS};
  \draw[act,dsh] (xip) -- (xia);
  \draw (xia) -- (xis);
  \draw[act] (xis) -- (xir);
  \draw[act] (xir) -- node[elbl]{e} (xir -| xit.west);
  \draw[act] (xir.east) -- node[elbl]{e} (lcg.west);
  \node[lw] (lcgl) at (1185.2,505) {Late competence genes};
  \draw[act] (lcg) -- node[elbl]{e} (lcg -| lcgl.west);
  \node[gene] (blp0) at (\colP,552.7) {};
  \node[gene] (blm1) at (\colM,552.7) {};
  \node[gene] (blm2) at (\colM,562.6) {};
  \node[ai,label=below:Blp] (bla) at (\colAA,552.7) {};
  \node[gene] (bls) at (\colSS,552.7) {EC:2.7.13.3};
  \node[gene] (blr) at (\colRR,552.7) {};
  \draw[dsh] (blp0) -- (blm1);
  \draw[act,dsh] (blm1) -- (bla);
  \draw[act] (bla) -- (bls);
  \draw[act] (bls) -- node[plbl,above,pos=0.8]{+p} (blr);
  \generow{blt}{\colTT}{27.35}{553.1}{{},{},{},EC:2.7.13.3,{}}
  \draw[act] (blr) -- node[elbl]{e} (blt1);
  \node[lbl] (bltl) at (1175.3,543.4) {Bacteriocins and immunity proteins};

  \node[genel] (sh2p) at (\colP,604.1) {Shp2};
  \node[ai,label=above:SHP2C8] (sh2a) at (\colAA,604.1) {};
  \node[gene] (sh2s) at (\colSS,604.1) {};
  \node[gene] (sh2r) at (\colRR,604.1) {};
  \node[genel] (sh3p) at (\colP,619.9) {Shp3};
  \node[ai,label=below:SHP3C8] (sh3a) at (\colAA,619.9) {};
  \node[gene] (sh3s) at (\colSS,619.9) {};
  \node[gene] (sh3r) at (\colRR,619.9) {};
  \draw[act,dsh] (sh2p) -- (sh2a);
  \draw (sh2a) -- (sh2s);
  \draw[act] (sh2s) -- (sh2r);
  \draw[act,dsh] (sh3p) -- (sh3a);
  \draw (sh3a) -- (sh3s);
  \draw[act] (sh3s) -- (sh3r);
  \node[genel] (sh2t) at (\colTT,609.4) {Shp2};
  \node[genel] (sh3t) at (\colTT,620.4) {Shp3};
  \draw[act] (sh2r.east) -- node[elbl]{e} ($(sh2t.west)+(0,2.5)$);
  \draw[inh] (sh3r.east) -- node[elbl]{e} ($(sh3t.west)+(0,-2.8)$);
  \node[lbl] (qml) at (875.2,648.9) {?};
  \node[ai] (qa) at (\colAA,649.4) {};
  \node[gene] (qs1) at (\colSS,643.2) {};
  \node[gene] (qs2) at (\colSS,655.1) {};
  \node[gene] (qr) at (\colRR,649.4) {};
  \draw[act] (qa) -- (qr);
  \node[gene] (qt) at (\colTT,649.8) {EC:3.4.22.10};
  \draw[act] (qr) -- node[elbl]{e} (qt);
  \node[lw] (qtl) at (1141.7,649.8) {Cystein protease};
  \node[lw] (qvir) at (1225.7,649.8) {Virulence};
  \draw[act,dsh] ($(qvir.west)+(-31,0)$) -- (qvir);
  \node[lbl] (pegl) at (944.6,678.2) {Post-exponential growth phase modulation};
  \node[gene] (peb) at (1000.2,687.4) {EC:4.1.2.40};
  \draw[inh] (peb.north) -- ($(qr.south)+(0,2.8)$);
  \node[lw] (bfsl) at (1114.7,679.8) {Biofilm formation};
  \draw[act,dshl,rounded corners=3pt] ($(sh2r.east)+(0,3)$) -| (1055.5,679.8) -- (bfsl);
  \draw[dshl] ($(sh3r.east)+(0,3)$) -- ++(10,0);
  \draw[dshl] ($(qr.east)+(0,3)$) -- ++(10,0);

  % Enterococcus
  \node[lw] (spef) at (703.5,714.2) {Enterococcus faecalis};
  \node[lw] (pcfl) at (721,733.6) {pCF10 (Donor cell)};
  \node[gene] (icp) at (\colP,744.3) {};
  \node[ai,label=above:iCF10] (ica) at (\colAA,744.3) {};
  \node[gene] (ics) at (\colSS,744.3) {};
  \node[gene] (ccp) at (\colP,760.4) {};
  \node[ai,label=below:cCF10] (cca) at (\colAA,760.4) {};
  \node[gene] (ccs) at (\colSS,760.4) {};
  \node[lw] (ccch) at (721,772.1) {Chromosome (Recipient cell)};
  \node[gene] (icr) at (\colRR,752.1) {};
  \node[gene] (ict) at (\colTT,752.1) {};
  \draw[act,dsh] (icp) -- (ica);
  \draw (ica) -- (ics);
  \draw[act,dsh] (ccp) -- (cca);
  \draw (cca) -- (ccs);
  \draw[act] (ics.east) -- ($(icr.west)+(0,-2.5)$);
  \draw[inh] (ccs.east) -- ($(icr.west)+(0,2.5)$);
  \draw[inh] (icr) -- node[elbl]{e} (ict);
  \node[lw] (icc1) at (1114.7,782.4) {Conjugation machinery};
  \draw[act,dshl,rounded corners=3pt] ($(icr.east)+(0,3)$) -| (1055.5,782.4) -- (icc1);

  \node[lw] (padl) at (721,803.2) {pAD1 (Donor cell)};
  \node[gene] (iap) at (\colP,814.9) {};
  \node[ai,label=above:iAD1] (iaa) at (\colAA,814.9) {};
  \node[gene] (ias) at (\colSS,814.9) {};
  \node[gene] (cap) at (\colP,830.9) {};
  \node[ai,label=below:cAD1] (caa) at (\colAA,830.9) {};
  \node[gene] (cas) at (\colSS,830.9) {};
  \node[lw] (cach) at (721,842) {Chromosome (Recipient cell)};
  \node[gene] (iar) at (\colRR,823.5) {};
  \node[gene] (iat1) at (\colTT,818.4) {};
  \node[gene] (iat2) at (\colTT,829.3) {};
  \node[gene] (agg) at (1187.4,829.3) {};
  \node[lw] (aggl) at (1203.3,830.9) {Aggregation};
  \draw[act,dsh] (iap) -- (iaa);
  \draw (iaa) -- (ias);
  \draw[act,dsh] (cap) -- (caa);
  \draw (caa) -- (cas);
  \draw[act] (ias.east) -- ($(iar.west)+(0,-2.5)$);
  \draw[inh] (cas.east) -- ($(iar.west)+(0,2.5)$);
  \draw[inh] (iar) -- node[elbl]{e} (iar -| iat1.west);
  \draw[act] (iat2) -- (agg);
  \node[lw] (icc2) at (1114.7,847.8) {Conjugation machinery};
  \draw[act,dshl,rounded corners=3pt] ($(iar.east)+(0,3)$) -| (1055.5,847.8) -- (icc2);

  \node[gene] (fsp) at (\colP,880.7) {};
  \node[gene] (fsq) at (\colQ,886.5) {};
  \node[ai,label=below:GBAP] (fsa) at (\colAA,880.7) {};
  \node[gene] (fss) at (\colSS,880.7) {EC:2.7.13.3};
  \node[gene] (fsr) at (\colRR,880.7) {};
  \draw[act,dsh] (fsp) -- (fsa);
  \draw[act] (fsa) -- (fss);
  \draw[act] (fss) -- node[plbl,above,pos=0.8]{+p} (fsr);
  \generow{fst}{\colTT}{27}{870.4}{{},EC:2.7.13.3}
  \node[gene] (fsg) at (\colTT,880.9) {EC:3.4.24.30};
  \node[gene] (fsh) at (\colTT,891.6) {EC:3.4.21.19};
  \draw[act] (fsr) -- node[elbl]{e} (fsg);
  \node[lw] (fsgl) at (1141.7,882.1) {Gelatinase};
  \node[lw] (fshl) at (1141.7,892) {Serine protease};
  \node[lw] (fsbf) at (1214.9,886.5) {Biofilm formation};
  \draw[act,dsh] ($(fsbf.west)+(-31,0)$) -- (fsbf);

  \node[gene] (cy1) at (736.6,925) {};
  \node[gene] (cy2) at (736.6,935.6) {};
  \node[gene] (cy3) at (765.5,936.2) {};
  \node[gene] (cym) at (\colM,930.7) {};
  \node[gene] (cyq) at (\colQ,936.2) {};
  \node[lbl] (cypr) at (862.9,911.1) {In the presence of target cells};
  \node[ai,label={above:CylL\textsubscript{L}”}] (cyl) at (\colAA,926.4) {};
  \node[ai,label={below:CylL\textsubscript{S}”}] (cys) at (\colAA,935.2) {};
  \draw[dsh] (cy1.south east) -- (cy1.south east -| cym.west);
  \draw[act,dsh] (cym) -- ($(cyl.west)!0.5!(cys.west)$);
  \node[lw] (tcl) at (931.7,912.6) {Target cell lysis};
  \draw[act,dsh,rounded corners=2pt] (cyl.east) -- ++(9,0) |- (tcl);
  \node[gene] (cyss) at (\colSS,935.6) {};
  \node[gene] (cyr) at (\colRR,935.6) {};
  \draw[act] (cys) -- (cyss);
  \draw[inh,dsh] (cyss) -- (cyr);
  \generow{cyt}{\colTT}{27}{930.1}{{},{}}
  \generow{cyu}{\colTT}{27}{940.8}{{},{},{}}
  \draw[inh] (cyr) -- node[elbl]{e} (cyr -| cyt1.west);
  \node[lbl] (cyab) at (855.2,956.8) {In absence of target cells};
  \node[ai,label={above:CylL\textsubscript{L}”}] (na1) at (\colAA,969.6) {};
  \node[ai,label={below:CylL\textsubscript{S}”}] (na2) at (\colAA,979) {};
  \draw (na1) -- (na2);
  \node[lw] (nsi) at (932.5,974.7) {No signaling induction};
  \draw[act,dsh] ($(na1)!0.5!(na2)+(3,0)$) -- (nsi);

  % Bacillus
  \node[lw] (spba) at (705.8,1002.1) {Bacillus};
  \node[gene] (cxp) at (\colP,1014) {};
  \node[gene] (cxq) at (\colQ,1019.8) {};
  \node[ai,label=below:ComX] (cxa) at (\colAA,1014) {};
  \node[gene] (cxs) at (\colSS,1014) {EC:2.7.13.3};
  \node[gene] (cxr) at (\colRR,1014) {};
  \draw[act,dsh] (cxp) -- (cxa);
  \draw[act] (cxa) -- (cxs);
  \draw[act] (cxs) -- node[plbl,above,pos=0.8]{+p} (cxr);
  \node[gene] (cxt1) at (\colTT,1003.5) {};
  \node[gene] (cxg) at (1185.7,1003.5) {};
  \node[lw] (cxgl) at (1206.4,1004.1) {Competence gene expression};
  \draw[act,dsh] (cxt1) -- (cxg);
  \generow{cxu}{\colTT}{27}{1014.4}{{},{}}
  \generow{cxv}{\colTT}{27}{1025.1}{{},{}}
  \node[lw] (cxul) at (1168,1019.5) {Surfactin production};
  \draw[act] (cxr) -- node[elbl]{e} (cxr -| cxu1.west);

  \foreach \k in {1,...,7}
    \node[gene] (php\k) at (\colP,{1054.4+10.7*(\k-1)}) {};
  \node[splitbox={ksal}{kblu}] (phm) at (\colM,1085.8) {EC:7.4.2.8};
  \node[ai,label=below:Phr] (pha) at (\colAA,1085.8) {};
  \node[gene] (phs) at (\colSS,1085.8) {};
  \foreach \k in {1,...,8}
    \node[gene] (phk\k) at (\colRR,{1053.9+10.73*(\k-1)}) {};
  \draw[dsh] (php4.east) -- (php4.east -| phm.west);
  \draw[act,dsh] (phm) -- (pha);
  \draw (pha) -- (phs);
  \draw[inh] (phs) -- (phs -| phk4.west);
  \node[gene] (phd) at (1092.7,1086.2) {};
  \node[gene] (phe) at (1092.7,1107.8) {};
  \node[gene] (phf) at (1092.7,1119.8) {};
  \draw[inh] (phk4.east) -- (phd.west);
  \draw[inh] (phk5.east) -- (phd.west);
  \foreach \k in {4,6,7,8}
    \draw[inh] (phk\k.east) -- (phe.west);
  \node[plbl] (phmp) at (1072.1,1102.1) {-p};
  \node[lw] (phdl) at (1137.8,1087.3) {Degradative enzymes};
  \draw[act] (phd) -- node[elbl]{e} (phd -| phdl.west);
  \node[gene] (phg) at (1142.6,1113.6) {};
  \draw[act] (phe.south east) -- node[plbl,below=0.5pt]{+p} (phg.west);
  \node[lw] (phgl) at (1188.7,1113.6) {Sporulation genes};
  \draw[act] (phg) -- node[elbl]{e} (phgl);
  \draw[inh,rounded corners=3pt] (1053.6,1075.5) -- (1067.2,1075.5) -- (1067.2,1038) -- (1032.4,1038) -- ($(cxr.south)+(0,3)$);
  \draw[rounded corners=2pt] (1047.8,1048.6) -- (1053.6,1048.6) -- (1053.6,1100.6) -- (1047.8,1100.6);

  % Bacillus thuringiensis
  \node[lw] (spbt) at (705.8,1155.6) {Bacillus thuringiensis};
  \node[gene] (btp) at (\colP,1181.5) {};
  \node[splitbox={ksal}{kblu}] (btm) at (\colM,1181.5) {EC:7.4.2.8};
  \node[gene] (btq) at (\colQ,1187.4) {};
  \node[ai,label=below:PapR] (bta) at (\colAA,1181.5) {};
  \node[gene] (bts) at (\colSS,1181.5) {};
  \node[gene] (btr) at (\colRR,1181.5) {};
  \draw[dsh] (btp) -- (btm);
  \draw[act,dsh] (btm) -- (bta);
  \draw (bta) -- (bts);
  \draw[act] (bts) -- (btr);
  \generow{btu}{\colTT}{27}{1165.8}{{},{}}
  \node[gene] (btv) at (\colTT,1176.3) {EC:3.1.4.3};
  \generow{btw}{\colTT}{27}{1187}{{},{}}
  \generow{btx}{\colTT}{27}{1197.7}{{},{}}
  \node[lw] (btvl) at (1141.7,1177.8) {Phospholipase};
  \node[lw] (btwl) at (1169.4,1188.5) {Enterotoxin};
  \draw[act] (btr) -- node[elbl]{e} (btr -| btv.west);
  \node[lw] (btvir) at (1239.1,1183.3) {Virulence};
  \draw[act,dsh] ($(btvir.west)+(-31,0)$) -- (btvir);

  \node[gene] (npp) at (\colP,1237.8) {};
  \node[splitbox={ksal}{kblu}] (npm) at (\colM,1237.8) {EC:7.4.2.8};
  \node[ai,label=below:NprX] (npa) at (\colAA,1237.8) {};
  \node[gene] (nps) at (\colSS,1237.8) {};
  \node[gene] (npr) at (\colRR,1237.8) {};
  \draw[dsh] (npp) -- (npm);
  \draw[act,dsh] (npm) -- (npa);
  \draw (npa) -- (nps);
  \draw[act] (nps) -- (npr);
  \node[lw] (npl1) at (1114.7,1233.9) {Degradation enzyme};
  \node[lw] (npl2) at (1114.7,1244.6) {Lipopeptide};
  \draw[act] (npr.east) -- node[elbl]{e} ++(65.3,0);
  \node[lw] (npl3) at (1207.9,1233.9) {Necrotrophism};
  \node[lw] (npl4) at (1184,1244.6) {Biofilm formation};
  \draw[act,dsh] ($(npl3.west)+(-31,0)$) -- (npl3);
  \draw[act,dsh] ($(npl4.west)+(-31,0)$) -- (npl4);

  % Gram-positive bacteria
  \node[lw] (spgp) at (705.8,1275.5) {Gram-positive bacteria};
  \node[gene] (gpp) at (736.6,1313.1) {};
  \node[gene] (gpa1) at (765.5,1307.4) {};
  \node[gene] (gpa2) at (765.5,1319.1) {};
  \node[gene] (gpm) at (\colM,1313.1) {};
  \draw[dsh] ($(gpp.east)+(0,-1.2)$) -- ($(gpm.west)+(0,-1.2)$);
  \draw[dsh] ($(gpp.east)+(0,1.2)$) -- ($(gpm.west)+(0,1.2)$);
  \node[ai,label=above:Mature antimicrobial peptide] (gpc) at (\colAA,1313.1) {};
  \node[gene] (gpq) at (\colQ,1319.1) {};
  \node[gene] (gps) at (\colSS,1313.1) {EC:2.7.13.3};
  \node[gene] (gpr) at (\colRR,1313.1) {};
  \draw[act,dsh] (gpm) -- (gpc);
  \draw[act] (gpc) -- (gps);
  \draw[act] (gps) -- node[plbl,above,pos=0.8]{+p} (gpr);
  \node[gene] (gt1) at (\colTT,1286.8) {};
  \generow{gtm}{\colTT}{27}{1297.5}{{},{}}
  \node[gene] (gtt) at (\colTT,1308.1) {};
  \node[gene] (gtp) at (\colTT,1318.7) {};
  \generow{gts}{\colTT}{27}{1329.6}{EC:2.7.13.3,{}}
  \generow{gti}{\colTT}{27.3}{1340.3}{{},{},{},{}}
  \draw[act] (gpr) -- node[elbl]{e} (gpr -| gtt.west);
  \node[lw] (gt1l) at (1142.5,1287.8) {Antimicrobial peptide precursor};
  \node[lw] (gtml) at (1168,1298.5) {Modification};
  \node[lw] (gttl) at (1142.5,1309.4) {Transport};
  \node[lw] (gtpl) at (1142.5,1319.7) {Processing};
  \node[lw] (gtsl) at (1169.4,1330.6) {Sensing system};
  \node[lw] (gtil) at (1225.3,1341.3) {Immunity};

  % colour bar
  \shade[shading=coolwarm] (1339,628) rectangle (1356,941);
  \draw[line width=1.3pt] (1339,628) rectangle (1356,941);
  \foreach \v/\ty in {800/678.4,600/745.2,400/812,200/878.7} {
    \draw[line width=0.8pt] (1356,\ty) -- (1362.5,\ty);
    \node[anchor=west, inner sep=0pt, font=\cbfont\fontsize{17}{17}\selectfont] (cb\v) at (1366,\ty) {\v};
  }
\end{tikzpicture}
\end{document}
